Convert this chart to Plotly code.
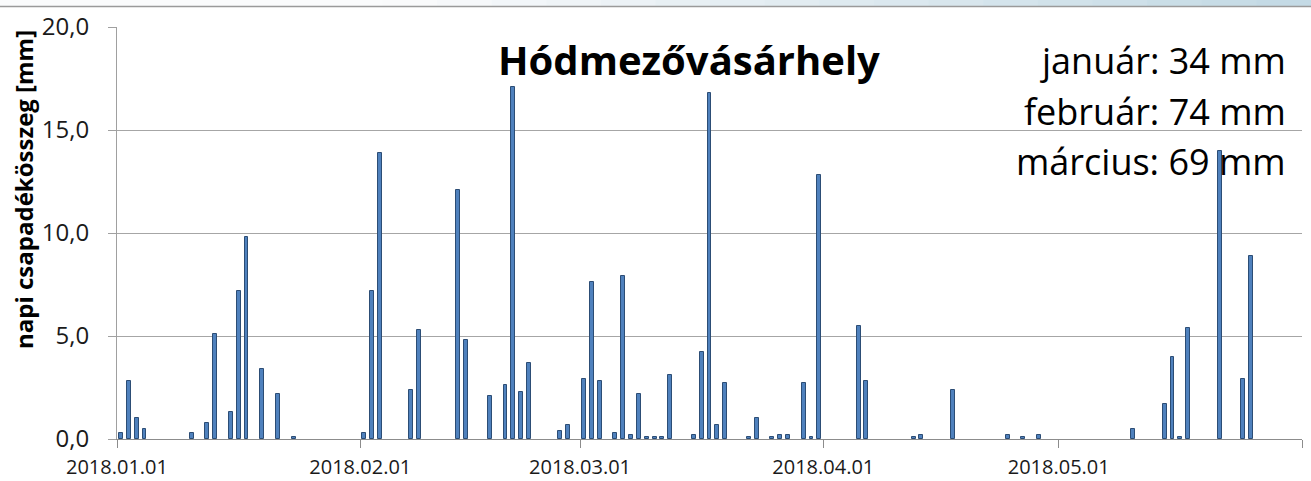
import plotly.graph_objects as go

# ---- data ----
dates = [
    "2018-01-01", "2018-01-02", "2018-01-03", "2018-01-04", "2018-01-10", "2018-01-12",
    "2018-01-13", "2018-01-15", "2018-01-16", "2018-01-17", "2018-01-19", "2018-01-21",
    "2018-01-23",
    "2018-02-01", "2018-02-02", "2018-02-03", "2018-02-07", "2018-02-08", "2018-02-13",
    "2018-02-14", "2018-02-17", "2018-02-19", "2018-02-20", "2018-02-21", "2018-02-22",
    "2018-02-26", "2018-02-27",
    "2018-03-01", "2018-03-02", "2018-03-03", "2018-03-05", "2018-03-06", "2018-03-07",
    "2018-03-08", "2018-03-09", "2018-03-10", "2018-03-11", "2018-03-12", "2018-03-15",
    "2018-03-16", "2018-03-17", "2018-03-18", "2018-03-19", "2018-03-22", "2018-03-23",
    "2018-03-25", "2018-03-26", "2018-03-27", "2018-03-29", "2018-03-30", "2018-03-31",
    "2018-04-05", "2018-04-06", "2018-04-12", "2018-04-13", "2018-04-17", "2018-04-24",
    "2018-04-26", "2018-04-28",
    "2018-05-10", "2018-05-14", "2018-05-15", "2018-05-16", "2018-05-17", "2018-05-21",
    "2018-05-24", "2018-05-25",
]
precip_mm = [
    0.3, 2.8, 1.0, 0.5, 0.3, 0.8,
    5.1, 1.3, 7.2, 9.8, 3.4, 2.2,
    0.1,
    0.3, 7.2, 13.9, 2.4, 5.3, 12.1,
    4.8, 2.1, 2.6, 17.1, 2.3, 3.7,
    0.4, 0.7,
    2.9, 7.6, 2.8, 0.3, 7.9, 0.2,
    2.2, 0.1, 0.1, 0.1, 3.1, 0.2,
    4.2, 16.8, 0.7, 2.7, 0.1, 1.0,
    0.1, 0.2, 0.2, 2.7, 0.1, 12.8,
    5.5, 2.8, 0.1, 0.2, 2.4, 0.2,
    0.1, 0.2,
    0.5, 1.7, 4.0, 0.1, 5.4, 14.0,
    2.9, 8.9,
]

chart_title = "Hódmezővásárhely"
y_title = "napi csapadékösszeg [mm]"
month_sums = ["január: 34 mm", "február: 74 mm", "március: 69 mm"]
tick_dates = ["2018-01-01", "2018-02-01", "2018-03-01", "2018-04-01", "2018-05-01", "2018-06-01"]
tick_labels = ["2018.01.01", "2018.02.01", "2018.03.01", "2018.04.01", "2018.05.01", ""]
x_range = ["2018-01-01", "2018-06-01"]
y_range = [0, 20]

DAY_MS = 86400000
FONT = "Open Sans"

fig = go.Figure()
fig.add_trace(go.Bar(
    x=dates,
    y=precip_mm,
    xperiod=DAY_MS,
    xperiodalignment="middle",
    width=0.5 * DAY_MS,
    marker=dict(color="#4F81BD", line=dict(color="#2C4D75", width=1)),
    showlegend=False,
))

W, H = 1311, 481
L, R, T, B = 117, 9, 27, 42
plot_w = W - L - R
plot_h = H - T - B


def px_x(p):
    return (p - L) / plot_w


def px_y(p):
    return (H - B - p) / plot_h


annotations = [
    dict(text="<b>" + chart_title + "</b>", x=px_x(689), y=px_y(60), xref="paper", yref="paper",
         xanchor="center", yanchor="middle", showarrow=False,
         font=dict(family=FONT, size=40, color="#000000")),
    dict(text="<b>" + y_title + "</b>", x=px_x(23), y=px_y(190), xref="paper", yref="paper",
         xanchor="center", yanchor="middle", showarrow=False, textangle=-90,
         font=dict(family=FONT, size=24, color="#000000")),
]
row_centers = [61, 111, 161]
for txt, yc in zip(month_sums, row_centers):
    annotations.append(dict(text=txt, x=px_x(1288), y=px_y(yc), xref="paper", yref="paper",
                            xanchor="right", yanchor="middle", showarrow=False,
                            font=dict(family=FONT, size=36, color="#000000")))

# decorative top band (window frame strip)
shapes = []
n = 24
for i in range(n):
    t = i / (n - 1)
    k = max(0.0, (t - 0.3) / 0.7)
    r = int(250 - k * (250 - 196))
    g = int(251 - k * (251 - 218))
    b = int(252 - k * (252 - 229))
    shapes.append(dict(type="rect", xref="paper", yref="paper",
                       x0=px_x(W * i / n), x1=px_x(W * (i + 1) / n) + 0.001,
                       y0=px_y(6), y1=px_y(0), line=dict(width=0),
                       fillcolor=f"rgb({r},{g},{b})", layer="below"))
shapes.append(dict(type="line", xref="paper", yref="paper", x0=px_x(0), x1=px_x(W),
                   y0=px_y(6.5), y1=px_y(6.5), line=dict(color="#9a9a9a", width=1.5)))

fig.update_layout(
    width=W, height=H,
    margin=dict(l=L, r=R, t=T, b=B, pad=0, autoexpand=False),
    paper_bgcolor="white", plot_bgcolor="white",
    separators=", ",
    bargap=0,
    annotations=annotations,
    shapes=shapes,
    font=dict(family=FONT, color="#000000"),
)
fig.update_xaxes(
    type="date", range=x_range, automargin=False,
    tickvals=tick_dates, ticktext=tick_labels,
    ticks="outside", ticklen=8, tickcolor="#8c8c8c", tickwidth=1,
    ticklabelstandoff=2,
    showline=True, linecolor="#8c8c8c", linewidth=1,
    showgrid=False, zeroline=False,
    tickfont=dict(family=FONT, size=20, color="#1a1a1a"),
)
fig.update_yaxes(
    range=y_range, dtick=5, tickformat=".1f", automargin=False,
    ticks="outside", ticklen=8, tickcolor="#a0a0a0", tickwidth=1,
    ticklabelstandoff=14,
    showline=True, linecolor="#a0a0a0", linewidth=1,
    showgrid=True, gridcolor="#a6a6a6", gridwidth=1,
    zeroline=False,
    tickfont=dict(family=FONT, size=24, color="#1a1a1a"),
)

fig.write_html("out.html", config={"displayModeBar": False},
               post_script="document.body.style.margin='0px';")
